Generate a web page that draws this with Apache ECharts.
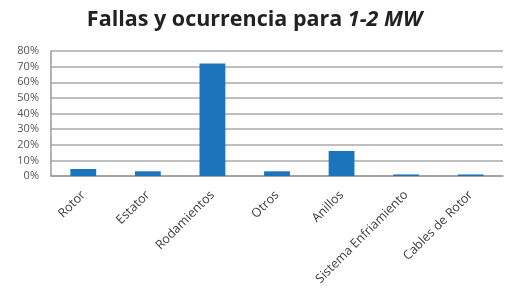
<!DOCTYPE html>
<html>
<head>
<meta charset="utf-8">
<script src="https://cdn.jsdelivr.net/npm/echarts@6/dist/echarts.min.js"></script>
<style>
  html, body { margin: 0; padding: 0; background: #fff; }
  #chart { width: 509px; height: 294px; }
</style>
</head>
<body>
<div id="chart"></div>
<script>
// datos
const categories = ["Rotor", "Estator", "Rodamientos", "Otros", "Anillos", "Sistema Enfriamiento", "Cables de Rotor"];
const values = [4.5, 3, 72, 3, 16, 1, 1];
const yTicks = [0, 10, 20, 30, 40, 50, 60, 70, 80];

const chart = echarts.init(document.getElementById("chart"));

chart.setOption({
    backgroundColor: "#fff",
    animation: false,
    title: {
        text: "{n|Fallas y ocurrencia para }{i|1-2 MW}",
        left: "center",
        top: 4,
        textStyle: {
            rich: {
                n: { fontFamily: "Open Sans", fontWeight: "bold", fontSize: 21.5, color: "#222" },
                i: { fontFamily: "Open Sans", fontWeight: "bold", fontStyle: "italic", fontSize: 21.5, color: "#222" },
            },
        },
    },
    grid: {
        left: 51,
        right: 6,
        top: 51,
        bottom: 118,
    },
    xAxis: {
        type: "category",
        data: categories,
        axisTick: { show: false },
        axisLine: { lineStyle: { color: "#9a9a9a", width: 1.5 } },
        axisLabel: {
            rotate: 45,
            interval: 0,
            margin: 17,
            fontFamily: "Open Sans",
            fontSize: 12.5,
            color: "#404040",
        },
    },
    yAxis: {
        type: "value",
        min: yTicks[0],
        max: yTicks[yTicks.length - 1],
        interval: 10,
        axisLine: { show: true, lineStyle: { color: "#9a9a9a", width: 1.5 } },
        axisTick: { show: false },
        splitLine: { lineStyle: { color: "#a8a8a8", width: 1.5 } },
        axisLabel: {
            formatter: v => v + "%",
            fontFamily: "Open Sans",
            fontSize: 11,
            color: "#555",
            margin: 12,
        },
    },
    series: [
        {
            type: "bar",
            data: values,
            barWidth: "40%",
            itemStyle: { color: "#1a75bc" },
        },
    ],
});
</script>
</body>
</html>
